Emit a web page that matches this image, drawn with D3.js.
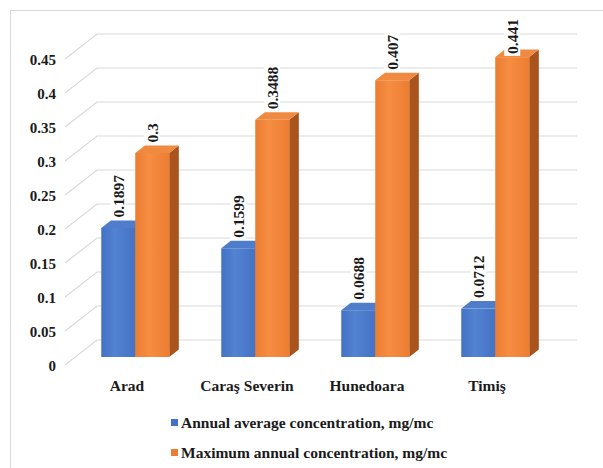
<!DOCTYPE html>
<html>
<head>
<meta charset="utf-8">
<script src="https://cdn.jsdelivr.net/npm/d3@7/dist/d3.min.js"></script>
</head>
<body style="margin:0;background:#fff">
<svg id="plot" width="603" height="468" style="display:block"></svg>
<script>
// Dust concentrations by county
const categories = ["Arad", "Caraş Severin", "Hunedoara", "Timiş"];
const avgValues = [0.1897, 0.1599, 0.0688, 0.0712];
const maxValues = [0.3, 0.3488, 0.407, 0.441];
const seriesNames = ["Annual average concentration, mg/mc", "Maximum annual concentration, mg/mc"];
const tickValues = [0, 0.05, 0.1, 0.15, 0.2, 0.25, 0.3, 0.35, 0.4, 0.45];
const tickLabels = ["0", "0.05", "0.1", "0.15", "0.2", "0.25", "0.3", "0.35", "0.4", "0.45"];

const FONT = "'Liberation Serif'";

const colors = {
  front: ["#4472C4", "#ED7D31"],
  light: ["#5282D2", "#F58D42"],
  side:  ["#2F5597", "#A9541C"],
  top:   ["#4F7DCC", "#F08A40"]
};

const svg = d3.select("#plot");

// chart frame
svg.append("rect")
  .attr("x", 10.5).attr("y", 10.5).attr("width", 700).attr("height", 700)
  .attr("fill", "#fff").attr("stroke", "#D9D9D9");

// 3-D projection: floor front edge and a receding depth offset
const DX = 32, DY = 25;          // full depth of the floor
const T1 = 0.32, T2 = 0.62;      // bar front / back depth fractions
const y = d3.scaleLinear().domain([0, 0.45]).range([365, 59]);
const x0 = d3.scaleBand().domain(categories).range([65, 545]).paddingInner(0).paddingOuter(0);
const x1 = d3.scaleBand().domain(seriesNames).range([0, x0.bandwidth()]).paddingInner(0).paddingOuter(0.765);
const proj = (x, v, t) => [x + DX * t, y(v) - DY * t];

const styleText = (sel, size) => sel
  .attr("font-family", "Liberation Serif")
  .attr("font-weight", "bold")
  .style("font-family", FONT, "important")
  .style("font-weight", "bold", "important")
  .style("font-size", size + "px")
  .style("fill", "#1a1a1a");

// gradients for the bar fronts
const defs = svg.append("defs");
[0, 1].forEach(i => {
  const g = defs.append("linearGradient").attr("id", "grad" + i)
    .attr("x1", "0%").attr("x2", "100%").attr("y1", "0%").attr("y2", "0%");
  g.append("stop").attr("offset", "0%").attr("stop-color", colors.front[i]);
  g.append("stop").attr("offset", "40%").attr("stop-color", colors.light[i]);
  g.append("stop").attr("offset", "100%").attr("stop-color", colors.front[i]);
});

// side wall and back wall gridlines
const grid = svg.append("g").attr("stroke", "#D9D9D9").attr("stroke-width", 1.2).attr("fill", "none");
tickValues.forEach(v => {
  const a = proj(x0.range()[0], v, 0), b = proj(x0.range()[0], v, 1), c = proj(x0.range()[1], v, 1);
  grid.append("path").attr("d", `M${a[0]},${a[1]}L${b[0]},${b[1]}L${c[0]},${c[1]}`);
});

// y axis labels
const axis = d3.axisLeft(y).tickValues(tickValues)
  .tickFormat((d, i) => tickLabels[i]).tickSize(0).tickPadding(0);
const axisG = svg.append("g").attr("transform", "translate(56,0)").call(axis);
axisG.select(".domain").remove();
axisG.attr("font-family", "Liberation Serif").attr("font-size", 15);
axisG.selectAll("text").attr("dy", "0.35em").call(styleText, 15);

// bars
const seriesData = [avgValues, maxValues];
const barsG = svg.append("g");
categories.forEach((cat, ci) => {
  seriesNames.forEach((s, si) => {
    const v = seriesData[si][ci];
    const xl = x0(cat) + x1(s), xr = xl + x1.bandwidth();
    const g = barsG.append("g");
    const p = (x, val, t) => proj(x, val, t).join(",");
    // right side
    g.append("polygon")
      .attr("points", [p(xr, 0, T1), p(xr, 0, T2), p(xr, v, T2), p(xr, v, T1)].join(" "))
      .attr("fill", colors.side[si]);
    // top
    g.append("polygon")
      .attr("points", [p(xl, v, T1), p(xr, v, T1), p(xr, v, T2), p(xl, v, T2)].join(" "))
      .attr("fill", colors.top[si]);
    // front
    const f0 = proj(xl, v, T1), f1 = proj(xr, 0, T1);
    g.append("rect")
      .attr("x", f0[0]).attr("y", f0[1])
      .attr("width", f1[0] - f0[0]).attr("height", f1[1] - f0[1])
      .attr("fill", `url(#grad${si})`);
  });
});

// value labels, rotated, on a white box above each bar
const labelsG = svg.append("g");
categories.forEach((cat, ci) => {
  seriesNames.forEach((s, si) => {
    const v = seriesData[si][ci];
    const xl = x0(cat) + x1(s);
    const cx = proj(xl + x1.bandwidth() / 2, v, T1)[0];
    const topBack = proj(xl, v, T2)[1];
    const g = labelsG.append("g");
    const box = g.append("rect").attr("fill", "#fff");
    const t = g.append("text").attr("dy", "0.35em").call(styleText, 15.5).text(String(v));
    const len = t.node().getComputedTextLength();
    let bottom = topBack - 3;
    if (bottom - len < 19) bottom = 19 + len;
    g.attr("transform", `translate(${cx},${bottom}) rotate(-90)`);
    box.attr("x", -2).attr("y", -8).attr("width", len + 4).attr("height", 16);
  });
});

// category labels
svg.append("g").selectAll("text").data(categories).join("text")
  .attr("x", d => x0(d) + x0.bandwidth() / 2 + 2)
  .attr("y", 391)
  .attr("text-anchor", "middle")
  .call(styleText, 15.5)
  .text(d => d);

// legend
const legend = svg.append("g").attr("transform", "translate(171,423)");
seriesNames.forEach((s, i) => {
  const g = legend.append("g").attr("transform", `translate(0,${i * 30})`);
  g.append("rect").attr("x", 0).attr("y", -4).attr("width", 7).attr("height", 7).attr("fill", colors.front[i]);
  g.append("text").attr("x", 10).attr("y", 0).attr("dy", "0.35em")
    .call(styleText, 15.5).text(s);
});
</script>
</body>
</html>
